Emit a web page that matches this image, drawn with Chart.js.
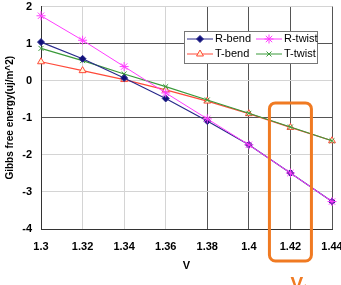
<!DOCTYPE html>
<html>
<head>
<meta charset="utf-8">
<script src="https://cdn.jsdelivr.net/npm/chart.js@4.4.0/dist/chart.umd.min.js"></script>
<style>
  html, body { margin: 0; padding: 0; background: #fff; overflow: hidden; }
  #wrap { width: 341px; height: 285px; overflow: hidden; }
</style>
</head>
<body>
<div id="wrap"><canvas id="gibbsChart" width="343" height="285"></canvas></div>
<script>
// values
const voltages = ['1.3', '1.32', '1.34', '1.36', '1.38', '1.4', '1.42', '1.44'];
const rBend  = [1.04, 0.59, 0.07, -0.48, -1.09, -1.73, -2.49, -3.26];
const rTwist = [1.75, 1.09, 0.38, -0.33, -1.03, -1.73, -2.49, -3.26];
const tBend  = [0.51, 0.27, 0.03, -0.25, -0.55, -0.89, -1.26, -1.62];
const tTwist = [0.87, 0.54, 0.18, -0.16, -0.52, -0.88, -1.25, -1.62];

const legendItems = [
  { label: 'R-bend', color: '#2a2a8c', style: 'rectRot', fill: '#10107a', r: 3.5 },
  { label: 'R-twist', color: '#ff3cff', style: 'star', fill: '#ff3cff', r: 4.5 },
  { label: 'T-bend', color: '#ff4a3a', style: 'triangle', fill: '#fff6d8', r: 4 },
  { label: 'T-twist', color: '#3a9a3a', style: 'crossRot', fill: '#3a9a3a', r: 3.5 }
];

const darkGrid = '#555';
const lightGrid = '#d4d4d4';

// orange box round the 1.42 V point, plus the Vt label
const markerPlugin = {
  id: 'markerPlugin',
  afterDraw(chart) {
    const ctx = chart.ctx;
    const xs = chart.scales.x;
    const ys = chart.scales.y;
    const x0 = xs.getPixelForValue(6) - 21;
    const x1 = xs.getPixelForValue(6) + 21;
    const y0 = ys.getPixelForValue(-0.6);
    const y1 = ys.getPixelForValue(-4) + 32;
    ctx.save();
    ctx.strokeStyle = '#f07a22';
    ctx.lineWidth = 3;
    ctx.beginPath();
    ctx.roundRect(x0, y0, x1 - x0, y1 - y0, 6);
    ctx.stroke();
    ctx.fillStyle = '#f07a22';
    ctx.font = 'bold 19px Arial, "Liberation Sans"';
    ctx.textBaseline = 'alphabetic';
    ctx.fillText('V', x0 + 21, y1 + 29);
    ctx.font = 'bold 11px Arial, "Liberation Sans"';
    ctx.fillText('t', x0 + 34, y1 + 31);
    ctx.restore();
  }
};

// legend box drawn inside the plot
const boxLegend = {
  id: 'boxLegend',
  afterDraw(chart) {
    const ctx = chart.ctx;
    const area = chart.chartArea;
    const left = area.left + 143;
    const top = area.top + 24.5;
    const w = 133, h = 32;
    ctx.save();
    ctx.fillStyle = '#fff';
    ctx.fillRect(left, top, w, h);
    ctx.strokeStyle = '#777';
    ctx.lineWidth = 1;
    ctx.strokeRect(left + 0.5, top + 0.5, w, h);
    ctx.font = '11px Arial, "Liberation Sans"';
    ctx.textBaseline = 'middle';
    legendItems.forEach((item, i) => {
      const col = i % 2;
      const row = Math.floor(i / 2);
      const lx = left + 3 + col * 69;
      const ly = top + 8 + row * 15;
      ctx.strokeStyle = item.color;
      ctx.lineWidth = 1;
      ctx.beginPath();
      ctx.moveTo(lx, ly);
      ctx.lineTo(lx + 26, ly);
      ctx.stroke();
      ctx.fillStyle = item.fill;
      ctx.strokeStyle = item.color;
      Chart.helpers.drawPoint(ctx, {
        pointStyle: item.style, radius: item.r, borderWidth: 1, rotation: 0
      }, lx + 13, ly);
      ctx.fillStyle = '#000';
      ctx.fillText(item.label, lx + 28, ly);
    });
    ctx.restore();
  }
};

function series(label, data, color, style, fill, radius, order, width) {
  return {
    label: label,
    data: data,
    borderColor: color,
    backgroundColor: fill,
    borderWidth: width,
    pointStyle: style,
    pointRadius: radius,
    pointBorderColor: color,
    pointBackgroundColor: fill,
    pointBorderWidth: 1,
    tension: 0,
    fill: false,
    order: order
  };
}

const ctx = document.getElementById('gibbsChart').getContext('2d');
new Chart(ctx, {
  type: 'line',
  data: {
    labels: voltages,
    datasets: [
      series('R-bend', rBend, '#2a2a8c', 'rectRot', '#10107a', 3.5, 1, 1.2),
      series('R-twist', rTwist, '#ff3cff', 'star', '#ff3cff', 4.5, 0, 1),
      series('T-bend', tBend, '#ff4a3a', 'triangle', '#fff6d8', 4, 3, 1.2),
      series('T-twist', tTwist, '#3a9a3a', 'crossRot', '#3a9a3a', 3.5, 2, 1.2)
    ]
  },
  options: {
    responsive: false,
    animation: false,
    layout: { padding: 0 },
    plugins: {
      legend: { display: false },
      tooltip: { enabled: false }
    },
    scales: {
      x: {
        offset: false,
        afterFit(scale) {
          scale.height = 56;
          scale.paddingLeft = 0;
          scale.paddingRight = 11;
        },
        grid: {
          drawTicks: false,
          color: function(c) { return c.index >= 4 ? darkGrid : lightGrid; }
        },
        border: { color: '#333', width: 1 },
        ticks: {
          padding: 11,
          color: '#000',
          maxRotation: 0,
          font: { family: 'Arial, "Liberation Sans"', size: 11, weight: 'bold' }
        },
        title: {
          display: true,
          text: 'V',
          color: '#000',
          padding: { top: 0, bottom: 12 },
          font: { family: 'Arial, "Liberation Sans"', size: 11, weight: 'bold' }
        }
      },
      y: {
        min: -4,
        max: 2,
        afterFit(scale) {
          scale.width = 41;
          scale.paddingTop = 6.5;
          scale.paddingBottom = 0;
        },
        grid: {
          drawTicks: false,
          color: function(c) {
            const v = c.tick ? c.tick.value : 0;
            return (v === 1 || v === -1) ? darkGrid : lightGrid;
          }
        },
        border: { color: '#333', width: 1 },
        ticks: {
          stepSize: 1,
          padding: 9,
          color: '#000',
          font: { family: 'Arial, "Liberation Sans"', size: 11, weight: 'bold' }
        },
        title: {
          display: true,
          text: 'Gibbs free energy(uj/m^2)',
          color: '#000',
          padding: { top: 4, bottom: 0 },
          font: { family: 'Arial, "Liberation Sans"', size: 10, weight: 'bold' }
        }
      }
    }
  },
  plugins: [markerPlugin, boxLegend]
});
</script>
</body>
</html>
